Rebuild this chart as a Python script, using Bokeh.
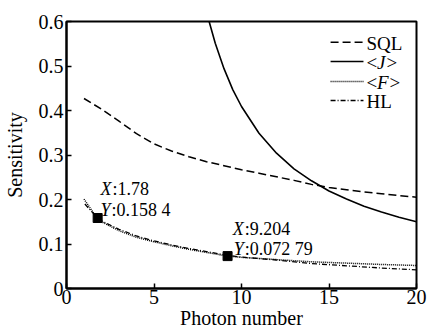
from bokeh.plotting import figure
from bokeh.models import Label, FixedTicker, Range1d
from bokeh.embed import file_html
from bokeh.resources import INLINE

# ---- data ----
n_sql = [1, 2, 3, 4, 5, 6, 7, 8, 9, 10, 11, 12, 13, 14, 15, 16, 17, 18, 19, 20]
sql = [0.427, 0.403, 0.376, 0.348, 0.325, 0.309, 0.296, 0.285, 0.276, 0.267,
       0.259, 0.251, 0.243, 0.234, 0.227, 0.222, 0.217, 0.213, 0.209, 0.205]

n_j = [7.8, 8.15, 8.5, 9, 9.5, 10, 11, 12, 13, 14, 15, 16, 17, 18, 19, 20]
j_vals = [0.658, 0.600, 0.551, 0.494, 0.447, 0.409, 0.349, 0.304, 0.269, 0.242,
          0.219, 0.201, 0.185, 0.172, 0.160, 0.150]

n_f = [1, 1.5, 1.78, 2, 3, 4, 5, 6, 7, 8, 9.204, 10, 12, 14, 16, 18, 20]
f_vals = [0.201, 0.172, 0.1584, 0.150, 0.130, 0.115, 0.105, 0.096, 0.088, 0.081,
          0.0728, 0.070, 0.065, 0.060, 0.057, 0.054, 0.0517]

n_hl = [1.05, 1.5, 1.78, 2, 3, 4, 5, 6, 7, 8, 9.204, 10, 12, 14, 16, 18, 20]
hl_vals = [0.190, 0.170, 0.1584, 0.152, 0.133, 0.118, 0.107, 0.098, 0.090, 0.083,
           0.0745, 0.0705, 0.064, 0.056, 0.051, 0.046, 0.042]

marker_x = [1.78, 9.204]
marker_y = [0.1584, 0.07279]
marker_x_text = ["1.78", "9.204"]
marker_y_text = ["0.158 4", "0.072 79"]

x_ticks = [0, 5, 10, 15, 20]
y_ticks = [0, 0.1, 0.2, 0.3, 0.4, 0.5, 0.6]
legend_names = ["SQL", "J", "F", "HL"]

SERIF = "Times New Roman"

p = figure(width=427, height=331, x_range=Range1d(0, 20), y_range=Range1d(0, 0.6),
           output_backend="svg", toolbar_location=None,
           min_border_left=66, min_border_right=11, min_border_top=21, min_border_bottom=43)
p.background_fill_color = "white"
p.border_fill_color = "white"
p.xgrid.visible = False
p.ygrid.visible = False
p.outline_line_color = "black"
p.outline_line_width = 2

for ax in (p.xaxis[0], p.yaxis[0]):
    ax.axis_line_width = 2
    ax.axis_line_color = "black"
    ax.major_tick_in = 5
    ax.major_tick_out = 0
    ax.major_tick_line_width = 1.5
    ax.major_tick_line_color = "black"
    ax.minor_tick_line_color = None
    ax.major_label_text_font = SERIF
    ax.major_label_text_font_size = "20px"
    ax.major_label_text_color = "black"
    ax.axis_label_text_font = SERIF
    ax.axis_label_text_font_style = "normal"
    ax.axis_label_text_color = "black"
    ax.axis_label_text_font_size = "20px"

p.xaxis.ticker = FixedTicker(ticks=x_ticks)
p.yaxis.ticker = FixedTicker(ticks=y_ticks)
p.yaxis.major_label_overrides = {0: "0"}
p.xaxis.major_label_standoff = 1
p.yaxis.major_label_standoff = 3
p.yaxis.axis_label = "Sensitivity"
p.yaxis.axis_label_standoff = 10
p.xaxis.axis_label = "Photon number"
p.xaxis.axis_label_standoff = 0

# curves
p.line(n_sql, sql, line_color="black", line_width=1.5, line_dash="8 4")
p.line(n_j, j_vals, line_color="black", line_width=1.6)
p.line(n_f, f_vals, line_color="black", line_width=1.5, line_dash="1 1")
p.line(n_hl, hl_vals, line_color="black", line_width=1.3, line_dash="5 2 1 2")

p.scatter(marker_x, marker_y, marker="square", size=9, color="black")

# data-tip annotations
TXT = dict(text_font=SERIF, text_font_size="18px", text_baseline="alphabetic", text_color="black")
tip_xy = [(1.94, 0.2225), (9.50, 0.134)]
tip_y_xy = [(1.94, 0.177), (9.55, 0.0892)]
for (xp, yp), (xq, yq), xt, yt in zip(tip_xy, tip_y_xy, marker_x_text, marker_y_text):
    p.add_layout(Label(x=xp, y=yp, text="X", text_font_style="italic", **TXT))
    p.add_layout(Label(x=xp, y=yp, x_offset=12, text=":" + xt, **TXT))
    p.add_layout(Label(x=xq, y=yq, text="Y", text_font_style="italic", **TXT))
    p.add_layout(Label(x=xq, y=yq, x_offset=11, text=":" + yt, **TXT))

# manual legend
leg_y = [0.5535, 0.510, 0.465, 0.4225]
leg_styles = [dict(line_dash="8 4", line_width=1.5), dict(line_width=1.6),
              dict(line_dash="1 1", line_width=1.5), dict(line_dash="5 2 1 2", line_width=1.3)]
for name, yy, st in zip(legend_names, leg_y, leg_styles):
    p.line([15.09, 16.97], [yy, yy], line_color="black", **st)
    kw = dict(text_font=SERIF, text_font_size="19px", text_baseline="middle", y_offset=-1,
              text_color="black")
    if name in ("J", "F"):
        p.add_layout(Label(x=17.14, y=yy, text="<", **kw))
        p.add_layout(Label(x=17.14, y=yy, x_offset=10.5, text=name, text_font_style="italic", **kw))
        p.add_layout(Label(x=17.14, y=yy, x_offset=(20 if name == "J" else 23), text=">", **kw))
    else:
        p.add_layout(Label(x=17.14, y=yy, text=name, **kw))

open("out.html", "w").write(file_html(p, INLINE))
